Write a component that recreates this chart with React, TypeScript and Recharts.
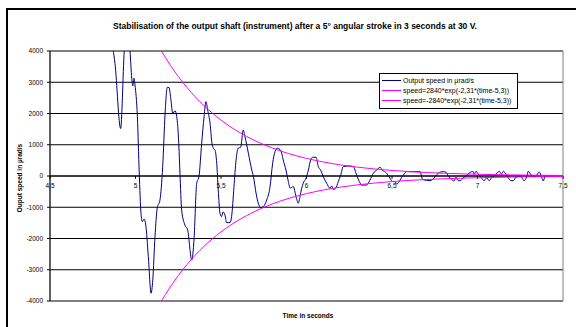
import {
  LineChart, Line, XAxis, YAxis, CartesianGrid, Legend,
  ReferenceLine, ReferenceDot, ReferenceArea,
} from 'recharts';

// Measured output speed (µrad/s) against time (s)
const speedTime = [
  4.857, 4.880, 4.913, 4.934, 4.944, 4.959, 4.968, 4.978, 4.984, 4.991,
  4.997, 5.011, 5.022, 5.032, 5.040, 5.050, 5.060, 5.075, 5.091, 5.101,
  5.114, 5.127, 5.143, 5.159, 5.173, 5.186, 5.196, 5.206, 5.218, 5.231,
  5.241, 5.253, 5.260, 5.270, 5.289, 5.305, 5.329, 5.342, 5.358, 5.371,
  5.387, 5.401, 5.412, 5.422, 5.436, 5.447, 5.455, 5.465, 5.475, 5.484,
  5.494, 5.503, 5.512, 5.523, 5.533, 5.553, 5.562, 5.576, 5.588, 5.601,
  5.615, 5.630, 5.640, 5.660, 5.680, 5.690, 5.705, 5.718, 5.732, 5.747,
  5.767, 5.787, 5.802, 5.816, 5.829, 5.845, 5.855, 5.864, 5.880, 5.894,
  5.904, 5.923, 5.939, 5.952, 5.962, 5.972, 5.981, 5.997, 6.011, 6.024,
  6.036, 6.056, 6.069, 6.083, 6.098, 6.118, 6.137, 6.147, 6.157, 6.171,
  6.186, 6.200, 6.215, 6.254, 6.274, 6.293, 6.309, 6.323, 6.352, 6.371,
  6.391, 6.410, 6.430, 6.443, 6.469, 6.488, 6.504, 6.518, 6.527, 6.547,
  6.566, 6.586, 6.625, 6.664, 6.679, 6.722, 6.738, 6.771, 6.800, 6.816,
  6.829, 6.849, 6.863, 6.874, 6.888, 6.900, 6.914, 6.933, 6.956, 6.972,
  6.981, 6.991, 7.005, 7.024, 7.038, 7.054, 7.069, 7.080, 7.102, 7.116,
  7.128, 7.140, 7.151, 7.167, 7.180, 7.196, 7.209, 7.225, 7.249, 7.260,
  7.272, 7.288, 7.297, 7.310, 7.326, 7.342, 7.361, 7.375, 7.385, 7.395,
  7.500,
];
const speedValue = [
  4400, 3600, 1520, 4000, 4800, 4700, 4000, 3130, 2880, 3130,
  2910, 1900, 90, -1190, -1460, -1380, -1570, -2580, -3750, -3330,
  -1940, -1030, -770, 300, 2000, 2840, 2830, 2490, 2000, 2090,
  1900, 1050, 90, -1090, -1570, -1730, -2690, -2050, -230, -20,
  1050, 1900, 2380, 2110, 1690, 1050, 890, 830, 410, -450,
  -1190, -1300, -1150, -1250, -1490, -1490, -1300, -340, 510, 890,
  920, 1470, 1260, 730, 190, -20, -550, -870, -1010, -980,
  -770, -340, 410, 780, 890, 850, 730, 510, 190, -180,
  -390, -340, -660, -870, -660, -390, -230, -70, 190, 510,
  600, 600, 300, 190, -20, -230, -390, -320, -430, -390,
  -180, 30, 300, 320, 300, 30, -180, -290, -290, -130,
  90, 190, 280, 190, 90, -70, -180, -180, -260, -130,
  30, 140, 140, 140, -110, -150, -110, 90, 140, 120,
  0, -110, -160, -40, -150, -150, -70, 0, 110, 150,
  60, 150, 60, -70, -150, -60, -150, -70, 30, 110,
  150, 60, 150, 60, -60, -150, -150, -40, 0, -60,
  -150, -20, 150, 60, -20, 0, 130, -40, -160, 0,
  0,
];

// Envelope 2840*exp(-2.31*(t-5.3)), tabulated
const envTime = [
  5.10, 5.15, 5.20, 5.25, 5.30, 5.35, 5.40, 5.45, 5.50, 5.55,
  5.60, 5.65, 5.70, 5.75, 5.80, 5.85, 5.90, 5.95, 6.00, 6.10,
  6.20, 6.30, 6.40, 6.50, 6.60, 6.70, 6.80, 6.90, 7.00, 7.10,
  7.20, 7.30, 7.40, 7.50,
];
const envUpper = [
  4508, 4016, 3578, 3188, 2840, 2530, 2254, 2008, 1789, 1594,
  1420, 1265, 1127, 1004, 895, 797, 710, 633, 564, 447,
  355, 282, 224, 178, 141, 112, 89, 70, 56, 44,
  35, 28, 22, 18,
];
const envLower = [
  -4508, -4016, -3578, -3188, -2840, -2530, -2254, -2008, -1789, -1594,
  -1420, -1265, -1127, -1004, -895, -797, -710, -633, -564, -447,
  -355, -282, -224, -178, -141, -112, -89, -70, -56, -44,
  -35, -28, -22, -18,
];

const xTicks = [4.5, 5, 5.5, 6, 6.5, 7, 7.5];
const yTicks = [-4000, -3000, -2000, -1000, 0, 1000, 2000, 3000, 4000];
const seriesNames = [
  'Output speed in µrad/s',
  'speed=2840*exp(-2,31*(time-5,3))',
  'speed=-2840*exp(-2,31*(time-5,3))',
];

const speedData = speedTime.map((t, i) => ({ t, v: speedValue[i] }));
const upperData = envTime.map((t, i) => ({ t, v: envUpper[i] }));
const lowerData = envTime.map((t, i) => ({ t, v: envLower[i] }));

const FONT = 'Arial, "Liberation Sans", sans-serif';
const fmtComma = (n: number) => String(n).replace('.', ',');

function LegendBox({ payload }: any) {
  // keep series order rather than the legend's default sort
  const items = [...(payload ?? [])].sort(
    (a: any, b: any) => seriesNames.indexOf(a.value) - seriesNames.indexOf(b.value),
  );
  return (
    <div
      style={{
        background: '#fff', border: '1px solid #000', width: 139, padding: '1px 0 2px 0',
        fontFamily: FONT, fontSize: 7, color: '#000', boxSizing: 'border-box',
      }}
    >
      {items.map((p: any) => (
        <div key={p.value} style={{ display: 'flex', alignItems: 'center', height: 10.3 }}>
          <span style={{ width: 19, height: 1.2, background: p.color, marginLeft: 2, marginRight: 2, flex: 'none' }} />
          <span style={{ whiteSpace: 'nowrap' }}>{p.value}</span>
        </div>
      ))}
    </div>
  );
}

export default function App() {
  return (
    <div style={{ position: 'absolute', left: 0, top: 0, width: 576, height: 327, background: '#fff', overflow: 'hidden' }}>
      {/* chart frame, runs off the right and bottom edges */}
      <div style={{ position: 'absolute', left: 6, top: 8, width: 620, height: 360, borderLeft: '2px solid #000', borderTop: '2px solid #000' }} />
      <div
        style={{
          position: 'absolute', left: 0, width: 590, top: 21, textAlign: 'center',
          fontFamily: FONT, fontWeight: 'bold', fontSize: 8.5, color: '#000',
        }}
      >
        Stabilisation of the output shaft (instrument) after a 5° angular stroke in 3 seconds at 30 V.
      </div>
      <div
        style={{
          position: 'absolute', left: 308, top: 315, transform: 'translate(-50%, -50%)', whiteSpace: 'nowrap',
          fontFamily: FONT, fontWeight: 'bold', fontSize: 6.5, color: '#000',
        }}
      >
        Time in seconds
      </div>
      <div
        style={{
          position: 'absolute', left: 19, top: 178, transform: 'translate(-50%, -50%) rotate(-90deg)', whiteSpace: 'nowrap',
          fontFamily: FONT, fontWeight: 'bold', fontSize: 6.5, color: '#000',
        }}
      >
        Ouput speed in µrad/s
      </div>
      <div style={{ position: 'absolute', left: 0, top: 0 }}>
        <LineChart width={576} height={327} margin={{ top: 51, right: 13, bottom: 26, left: 6 }}>
          <CartesianGrid vertical={false} stroke="#000" strokeWidth={1} />
          <ReferenceArea x1={4.5} x2={7.5} y1={-4000} y2={4000} fill="none" stroke="#808080" strokeWidth={1} />
          <XAxis
            dataKey="t" type="number" domain={[4.5, 7.5]} ticks={xTicks}
            allowDataOverflow hide
          />
          <YAxis
            type="number" domain={[-4000, 4000]} ticks={yTicks} allowDataOverflow
            width={44} tickSize={3} tickMargin={4} stroke="#000"
            tick={{ fontSize: 6.5, fontFamily: FONT, fill: '#000' }}
          />
          {/* horizontal axis crosses at zero */}
          <ReferenceLine y={0} stroke="#000" />
          {xTicks.map(t => (
            <ReferenceLine key={`tk${t}`} segment={[{ x: t, y: 0 }, { x: t, y: -90 }]} stroke="#000" />
          ))}
          {xTicks.map(t => (
            <ReferenceDot
              key={`tl${t}`} x={t} y={0} r={0} fill="none" stroke="none"
              label={{ value: fmtComma(t), position: 'bottom', offset: 7, fontSize: 6.5, fontFamily: FONT, fill: '#000' }}
            />
          ))}
          <Line
            data={speedData} dataKey="v" name={seriesNames[0]} type="monotone"
            stroke="#000080" strokeWidth={1} dot={false} isAnimationActive={false}
          />
          <Line
            data={upperData} dataKey="v" name={seriesNames[1]} type="monotone"
            stroke="#ff00ff" strokeWidth={1} dot={false} isAnimationActive={false}
          />
          <Line
            data={lowerData} dataKey="v" name={seriesNames[2]} type="monotone"
            stroke="#ff00ff" strokeWidth={1} dot={false} isAnimationActive={false}
          />
          <Legend
            layout="horizontal" verticalAlign="middle" align="center"
            wrapperStyle={{ position: 'absolute', left: 379, top: 73, width: 'auto' }}
            content={<LegendBox />}
          />
        </LineChart>
      </div>
    </div>
  );
}
